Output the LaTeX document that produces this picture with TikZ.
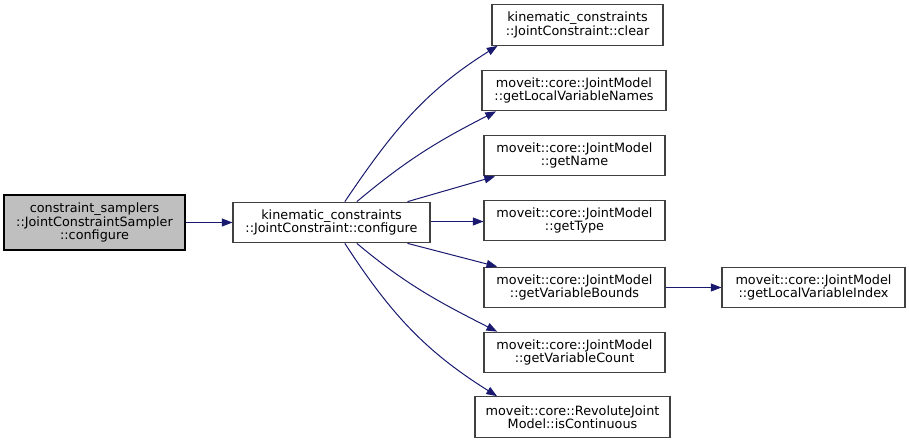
\documentclass[tikz,border=0pt]{standalone}
\usepackage{fontspec}
\setmainfont{DejaVu Sans}
\usepackage{xcolor}
\definecolor{edgeblue}{RGB}{25,25,112}
\definecolor{boxgrey}{RGB}{64,64,64}
\usetikzlibrary{arrows.meta, positioning}

\begin{document}
\begin{tikzpicture}[
          x=0.75pt, y=-0.75pt,
          fnbox/.style={
              draw=boxgrey,
              fill=white,
              line width=0.8pt,
              inner sep=1pt,
              minimum width=135.75pt,
              minimum height=30.5pt,
              font=\fontsize{9.6pt}{10pt}\selectfont,
              align=center
            },
          rootbox/.style={
              fnbox,
              draw=black,
              fill=black!25,
              minimum width=135.75pt,
              minimum height=41.25pt
            },
          arr/.style={-{Triangle[length=8pt, width=6pt]}, edgeblue, line width=0.75pt}
        ]
        \useasboundingbox (0,0) rectangle (909,444);

        \node[rootbox] (root) at (94.5,222.5)
        {constraint\_samplers\\::JointConstraintSampler\\::configure};
        \node[fnbox, minimum width=147.75pt] (cfg) at (331.5,222.5)
        {kinematic\_constraints\\::JointConstraint::configure};

        \node[fnbox, minimum width=128.25pt] (clear) at (577.5,25)
        {kinematic\_constraints\\::JointConstraint::clear};
        \node[fnbox, minimum width=138pt] (lvn) at (574,90.5)
        {moveit::core::JointModel\\::getLocalVariableNames};
        \node[fnbox] (name) at (574.5,155.5)
        {moveit::core::JointModel\\::getName};
        \node[fnbox] (type) at (574.5,220.5)
        {moveit::core::JointModel\\::getType};
        \node[fnbox] (bounds) at (574.5,287.5)
        {moveit::core::JointModel\\::getVariableBounds};
        \node[fnbox] (count) at (574.5,352.5)
        {moveit::core::JointModel\\::getVariableCount};
        \node[fnbox, minimum width=146.25pt] (rev) at (572.5,417)
        {moveit::core::RevoluteJoint\\Model::isContinuous};
        \node[fnbox, minimum width=137.25pt] (lvi) at (813.5,287.5)
        {moveit::core::JointModel\\::getLocalVariableIndex};

        \draw[arr] (root) -- (cfg);
        \draw[arr] ([xshift=10pt]cfg.north) to[out=56, in=212] ([xshift=-60pt]clear.south);
        \draw[arr] ([xshift=19pt]cfg.north) to[out=40, in=207] ([xshift=-58.5pt]lvn.south);
        \draw[arr] ([xshift=57pt]cfg.north) -- ([xshift=-59.6pt]name.south);
        \draw[arr] ([yshift=0.75pt]cfg.east) -- ([yshift=-0.75pt]type.west);
        \draw[arr] ([xshift=57pt]cfg.south) -- ([xshift=-58pt]bounds.north);
        \draw[arr] ([xshift=19pt]cfg.south) to[out=-40, in=153] ([xshift=-58pt]count.north);
        \draw[arr] ([xshift=10pt]cfg.south) to[out=-57, in=148] ([xshift=-56.6pt]rev.north);
        \draw[arr] (bounds) -- (lvi);
      \end{tikzpicture}
\end{document}
